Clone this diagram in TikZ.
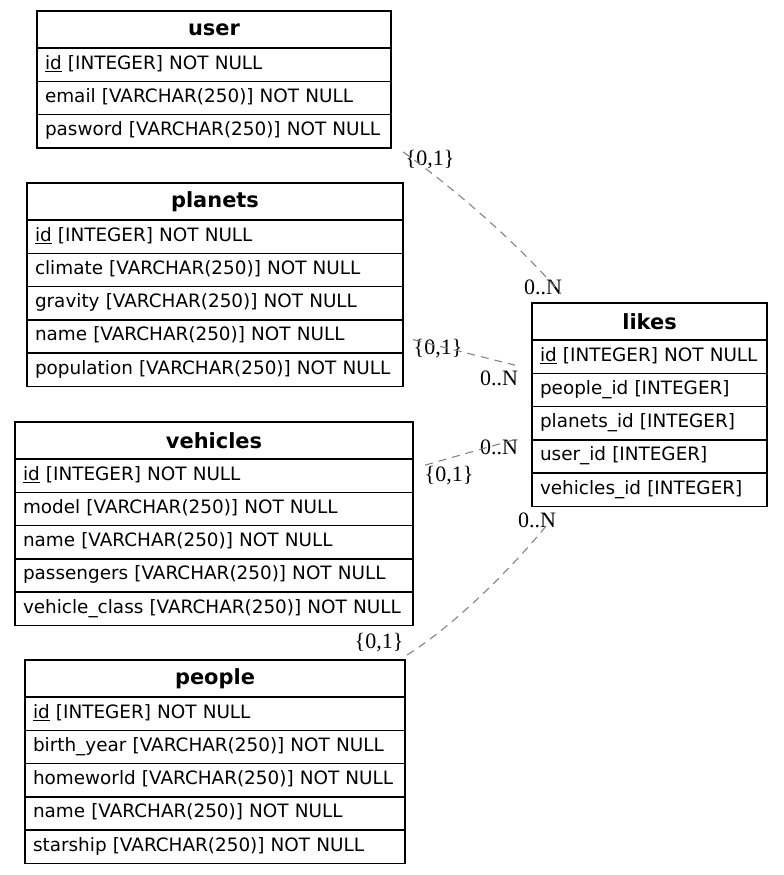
\documentclass[tikz,border=0pt]{standalone}
\usepackage{fontspec}
\setmainfont{DejaVu Sans}
\newfontfamily\lblfamily{Liberation Serif}
\newcommand\bodyfont{\fontsize{13.8pt}{16.4pt}\selectfont}
\newcommand\headfont{\fontsize{15.7pt}{18pt}\selectfont\bfseries}
\newcommand\lblfont{\lblfamily\fontsize{16.5pt}{19pt}\selectfont}

\tikzset{
  head/.style={draw, line width=1.2pt, anchor=north, inner sep=0pt, outer sep=0pt,
    minimum height=27.75pt, minimum width=#1, font=\headfont},
  cell/.style={draw, line width=1.2pt, anchor=north, inner xsep=6pt, inner ysep=0pt,
    outer sep=0pt, minimum height=24.98pt, text width=#1, align=left, font=\bodyfont,
    execute at begin node=\strut},
  rel/.style={draw=gray, line width=0.8pt, dash pattern=on 6pt off 4.5pt},
  lbl/.style={inner sep=0pt, font=\lblfont},
}

\begin{document}
\begin{tikzpicture}[x=0.75pt, y=-0.75pt]
\useasboundingbox (0,0) rectangle (783,875);

% user table
\node[head=265.5pt] (user) at (214,11) {user};
\node[cell=253.5pt] (user-1) at (user.south) {\underline{id} [INTEGER] NOT NULL};
\node[cell=253.5pt] (user-2) at (user-1.south) {email [VARCHAR(250)] NOT NULL};
\node[cell=253.5pt] (user-3) at (user-2.south) {pasword [VARCHAR(250)] NOT NULL};

% planets table
\node[head=282pt] (planets) at (215,183) {planets};
\node[cell=270pt] (planets-1) at (planets.south) {\underline{id} [INTEGER] NOT NULL};
\node[cell=270pt] (planets-2) at (planets-1.south) {climate [VARCHAR(250)] NOT NULL};
\node[cell=270pt] (planets-3) at (planets-2.south) {gravity [VARCHAR(250)] NOT NULL};
\node[cell=270pt] (planets-4) at (planets-3.south) {name [VARCHAR(250)] NOT NULL};
\node[cell=270pt] (planets-5) at (planets-4.south) {population [VARCHAR(250)] NOT NULL};

% vehicles table
\node[head=298.5pt] (vehicles) at (214,422) {vehicles};
\node[cell=286.5pt] (vehicles-1) at (vehicles.south) {\underline{id} [INTEGER] NOT NULL};
\node[cell=286.5pt] (vehicles-2) at (vehicles-1.south) {model [VARCHAR(250)] NOT NULL};
\node[cell=286.5pt] (vehicles-3) at (vehicles-2.south) {name [VARCHAR(250)] NOT NULL};
\node[cell=286.5pt] (vehicles-4) at (vehicles-3.south) {passengers [VARCHAR(250)] NOT NULL};
\node[cell=286.5pt] (vehicles-5) at (vehicles-4.south) {vehicle\_class [VARCHAR(250)] NOT NULL};

% people table
\node[head=285pt] (people) at (215,660) {people};
\node[cell=273pt] (people-1) at (people.south) {\underline{id} [INTEGER] NOT NULL};
\node[cell=273pt] (people-2) at (people-1.south) {birth\_year [VARCHAR(250)] NOT NULL};
\node[cell=273pt] (people-3) at (people-2.south) {homeworld [VARCHAR(250)] NOT NULL};
\node[cell=273pt] (people-4) at (people-3.south) {name [VARCHAR(250)] NOT NULL};
\node[cell=273pt] (people-5) at (people-4.south) {starship [VARCHAR(250)] NOT NULL};

% likes table
\node[head=176.25pt] (likes) at (649.5,303) {likes};
\node[cell=164.25pt] (likes-1) at (likes.south) {\underline{id} [INTEGER] NOT NULL};
\node[cell=164.25pt] (likes-2) at (likes-1.south) {people\_id [INTEGER]};
\node[cell=164.25pt] (likes-3) at (likes-2.south) {planets\_id [INTEGER]};
\node[cell=164.25pt] (likes-4) at (likes-3.south) {user\_id [INTEGER]};
\node[cell=164.25pt] (likes-5) at (likes-4.south) {vehicles\_id [INTEGER]};

% cardinality labels
\node[lbl] (user-card) at (430,160) {\{0,1\}};
\node[lbl] (likes-user-card) at (543,287) {0..N};
\node[lbl] (planets-card) at (438,349) {\{0,1\}};
\node[lbl] (likes-planets-card) at (499,378) {0..N};
\node[lbl] (vehicles-card) at (449,476) {\{0,1\}};
\node[lbl] (likes-vehicles-card) at (499,447) {0..N};
\node[lbl] (people-card) at (379,643) {\{0,1\}};
\node[lbl] (likes-people-card) at (537,520) {0..N};

% relations
\draw[rel] ([shift={(12,4)}]user-3.south east)
  .. controls (450,185) and (520,245) .. ([shift={(29,-9)}]likes.north west);
\draw[rel] ([shift={(10,3)}]planets-4.east) -- ([shift={(-17,8.5)}]likes-1.west);
\draw[rel] ([shift={(12,-10.5)}]vehicles-1.east) -- ([shift={(-15,-1)}]likes-4.north west);
\draw[rel] ([shift={(2,-5)}]people.north east)
  .. controls (455,625) and (515,565) .. ([shift={(16,17)}]likes-5.south west);
\end{tikzpicture}
\end{document}
